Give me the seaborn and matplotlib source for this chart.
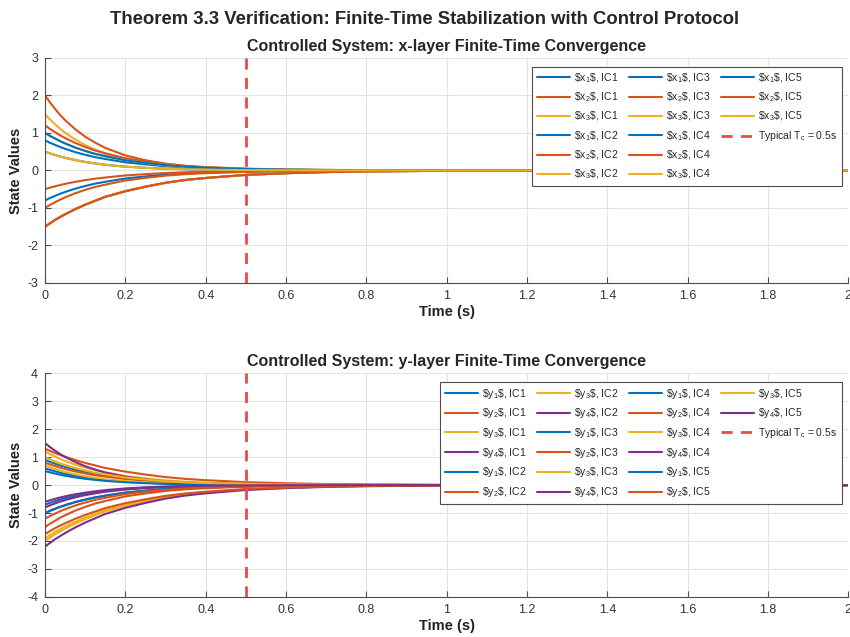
import numpy as np
import pandas as pd
import seaborn as sns
import matplotlib.pyplot as plt
from matplotlib.lines import Line2D

# time samples and decay profiles (fraction of initial value)
t_samples = [0, 0.0125, 0.025, 0.0375, 0.05, 0.075, 0.1, 0.125, 0.15, 0.2, 0.25, 0.3,
             0.35, 0.4, 0.5, 0.6, 0.7, 0.8, 1.0, 1.2, 2.0]
prof_fast = [1, 0.905, 0.82, 0.74, 0.67, 0.55, 0.45, 0.37, 0.30, 0.20, 0.135, 0.09,
             0.06, 0.04, 0.018, 0.008, 0.004, 0.002, 0, 0, 0]
prof_med = [1, 0.92, 0.85, 0.78, 0.72, 0.61, 0.52, 0.44, 0.38, 0.27, 0.20, 0.14,
            0.10, 0.074, 0.039, 0.02, 0.011, 0.006, 0.002, 0, 0]
prof_slow = [1, 0.94, 0.88, 0.83, 0.78, 0.69, 0.61, 0.54, 0.47, 0.37, 0.29, 0.22,
             0.17, 0.135, 0.08, 0.05, 0.03, 0.018, 0.007, 0.002, 0]
profiles = {"f": prof_fast, "m": prof_med, "s": prof_slow}

ics = ["IC1", "IC2", "IC3", "IC4", "IC5"]

# x-layer initial values [x1, x2, x3] per IC, and profile used
x_init = [[0.8, 2.0, 1.5], [-0.8, -1.0, -1.5], [0.5, 1.2, 1.0], [-1.5, -0.5, -1.5], [1.0, -1.5, 0.5]]
x_prof = [["m", "f", "f"], ["m", "m", "s"], ["f", "m", "m"], ["s", "m", "s"], ["m", "s", "f"]]

# y-layer initial values [y1, y2, y3, y4] per IC
y_init = [[0.9, 1.3, 1.2, 1.5], [-0.7, -1.5, -2.0, -0.8], [0.6, 0.8, 0.7, -1.0],
          [-1.0, -1.2, -1.9, -2.2], [0.5, -1.75, 1.0, -0.6]]
y_prof = [["m", "s", "m", "f"], ["f", "m", "s", "f"], ["f", "m", "f", "m"],
          ["m", "m", "s", "s"], ["f", "s", "m", "f"]]

t_c = 0.5
colors = ["#0072BD", "#D95319", "#EDB120", "#7E2F8E"]

sns.set_style("ticks")
plt.rcParams["font.family"] = ["Liberation Sans", "DejaVu Sans"]
plt.rcParams["mathtext.fontset"] = "custom"
plt.rcParams["mathtext.rm"] = "Liberation Sans"
plt.rcParams["mathtext.it"] = "Liberation Sans:italic"
plt.rcParams["axes.unicode_minus"] = False

fig = plt.figure(figsize=(8.5, 6.37), dpi=100)
ax1 = fig.add_axes([0.053, 0.556, 0.945, 0.353])
ax2 = fig.add_axes([0.053, 0.063, 0.945, 0.351])


def draw_layer(ax, inits, profs, name, ylim, ncol, title):
    handles = []
    for i, ic in enumerate(ics):
        for k, v0 in enumerate(inits[i]):
            vals = [v0 * p for p in profiles[profs[i][k]]]
            sns.lineplot(x=t_samples, y=vals, color=colors[k], lw=1.5, ax=ax)
            handles.append(Line2D([], [], color=colors[k], lw=1.5,
                                  label=r"\$%s$_{%d}$\$, %s" % (name, k + 1, ic)))
    ax.axvline(t_c, color="#F04848", lw=2, ls=(0, (4, 3)))
    handles.append(Line2D([], [], color="#F04848", lw=2, ls=(0, (4, 3)),
                          label=r"Typical T$_\mathrm{c}$ = 0.5s"))
    # pad with blank entries so columns fill like the original
    nrows = 6
    while len(handles) < nrows * ncol:
        handles.append(Line2D([], [], color="none", label=" "))
    ax.set_xlim(0, 2)
    ax.set_ylim(*ylim)
    ax.set_xticks(np.arange(0, 2.01, 0.2))
    ax.set_xticklabels(["0", "0.2", "0.4", "0.6", "0.8", "1", "1.2", "1.4", "1.6", "1.8", "2"])
    ax.set_yticks(np.arange(ylim[0], ylim[1] + 1, 1))
    ax.grid(True, color="#E3E3E3", lw=0.8)
    ax.set_axisbelow(True)
    ax.tick_params(direction="in", labelsize=9, colors="#4D4D4D", labelcolor="#333333",
                   length=4, pad=5)
    for s in ["top", "right"]:
        ax.spines[s].set_visible(False)
    for s in ["left", "bottom"]:
        ax.spines[s].set_color("#4D4D4D")
    ax.set_xlabel("Time (s)", fontsize=10.5, fontweight="bold", labelpad=2, color="#222222")
    ax.set_ylabel("State Values", fontsize=10.5, fontweight="bold", labelpad=3, color="#222222")
    ax.set_title(title, fontsize=11.5, fontweight="bold", pad=5)
    leg = ax.legend(handles=handles, ncol=ncol, loc="upper right", fontsize=7.5,
                    handlelength=3.2, handletextpad=0.35, columnspacing=1.0,
                    labelspacing=0.55, borderpad=0.45, fancybox=False,
                    framealpha=1, edgecolor="#4D4D4D", bbox_to_anchor=(0.9985, 0.985))
    leg.get_frame().set_linewidth(0.8)


draw_layer(ax1, x_init, x_prof, "x", (-3, 3), 3,
           "Controlled System: x-layer Finite-Time Convergence")
draw_layer(ax2, y_init, y_prof, "y", (-4, 4), 4,
           "Controlled System: y-layer Finite-Time Convergence")

fig.suptitle("Theorem 3.3 Verification: Finite-Time Stabilization with Control Protocol",
             fontsize=13.3, fontweight="bold", y=0.982)

fig.savefig("out.png", dpi=100)
